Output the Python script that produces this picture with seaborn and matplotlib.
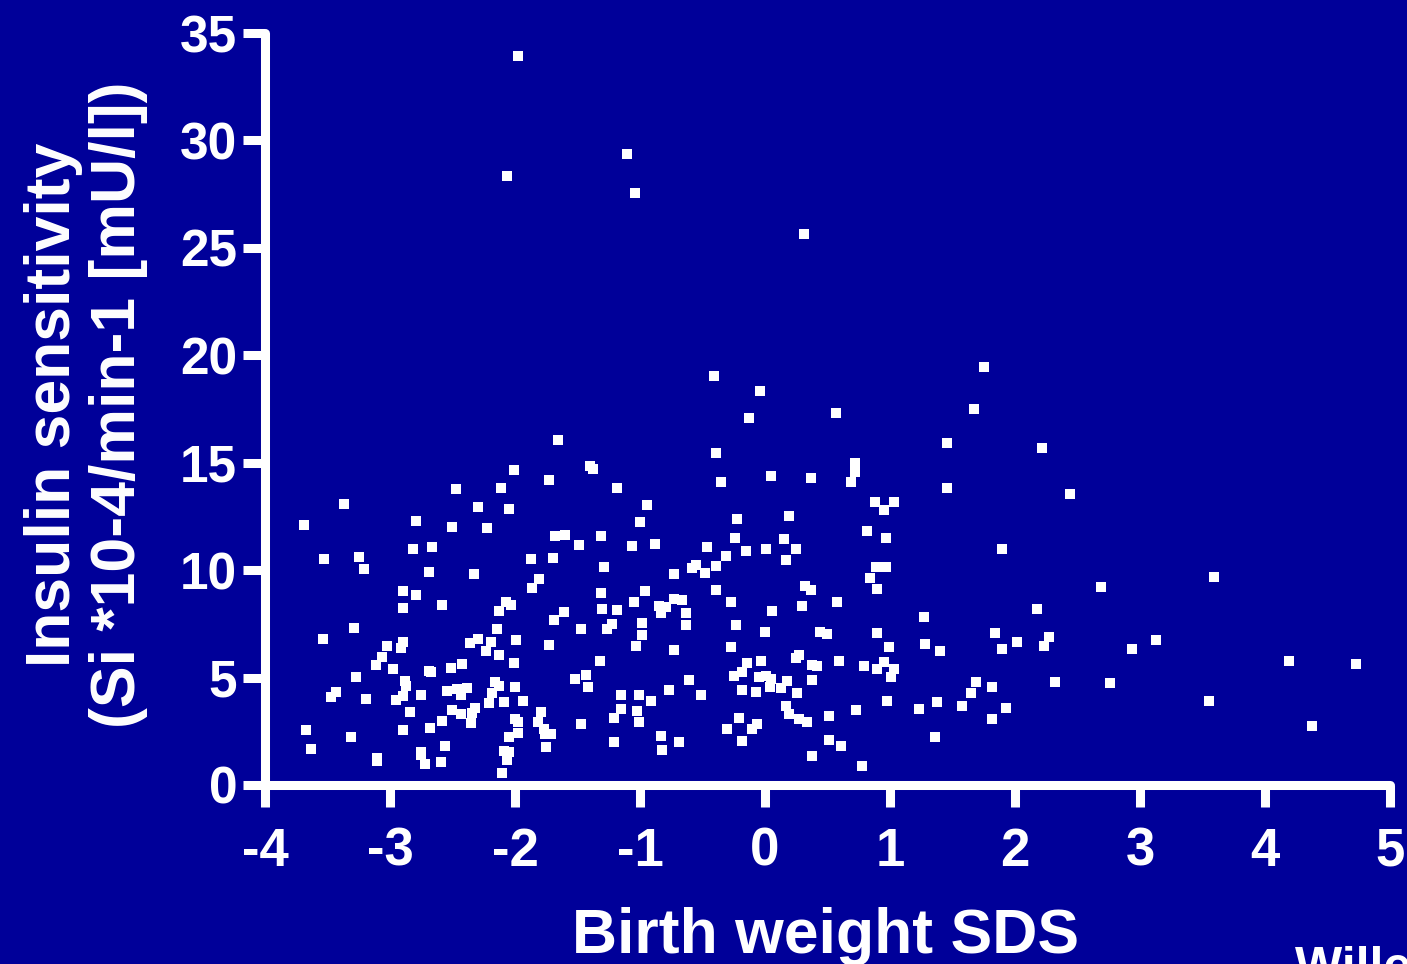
import matplotlib
matplotlib.use("Agg")
import matplotlib.pyplot as plt
import seaborn as sns
import pandas as pd

# Birth weight SDS (x) and insulin sensitivity (y)
birth_weight_sds = [
    -2.01, -2.47, -2.11, -3.37, -2.30, -2.05, -3.69, -2.79, -2.50, -2.22, -2.82, -2.66, -3.53, -3.25, -3.21,
    -2.69, -2.33, -2.90, -2.79, -2.90, -2.58, -2.07, -2.03, -2.13, -3.29, -3.54, -2.14, -3.02, -2.90, -2.91,
    -2.36, -2.30, -2.19, -1.99, -2.23, -2.13, -3.06, -3.11, -2.98, -2.69, -2.67, -2.51, -2.42, -2.01, -3.27,
    -2.88, -2.87, -3.43, -3.47, -3.19, -2.95, -2.90, -2.75, -2.54, -2.46, -2.43, -2.38, -2.16, -2.13, -2.18,
    -2.00, -2.21, -2.09, -1.94, -2.84, -2.50, -2.43, -2.32, -2.34, -2.58, -2.35, -2.00, -1.98, -3.67, -3.31,
    -2.90, -2.68, -2.05, -1.98, -3.63, -2.56, -2.75, -2.75, -3.10, -3.10, -2.72, -2.59, -2.09, -2.05, -2.06,
    -2.10,
    -0.13, -1.66, -0.39, -1.40, -1.38, -1.73, -0.35, -1.18, -0.94, -1.00, -0.22, -0.24, -1.68, -1.60, -1.31,
    -1.49, -1.06, -0.88, -0.46, -0.31, -0.15, 0.01, -1.87, -1.70, -1.29, -0.73, -0.58, -0.55, -0.48, -0.39,
    -1.81, -1.86, -1.31, -0.96, -1.05, -0.39, -0.73, -0.66, -0.85, -0.79, -0.83, -0.63, -0.27, -1.30, -1.18,
    -1.61, -1.69, -1.22, -1.26, -1.47, -0.98, -0.63, -0.98, -0.23, -1.73, -1.03, -0.73, -0.27, 0.00, -1.32,
    -0.14, -0.03, -1.52, -1.43, -1.42, -0.61, -0.25, -0.18, -0.05, 0.01, -1.15, -1.01, -0.91, -0.77, -0.51,
    -0.18, -0.07, 0.04, -1.79, -1.15, -1.21, -1.02, -1.01, -1.82, -1.77, -1.76, -1.71, -1.47, -1.75, -1.21,
    -0.83, -0.82, -0.69, -0.30, -0.21, -0.10, -0.06, -0.18,
    1.75, -0.04, 0.57, 1.67, 1.46, 0.05, 0.37, 0.72, 0.72, 0.69, 1.46, 0.88, 1.03, 0.95, 0.19,
    0.82, 0.97, 0.15, 0.25, 0.17, 1.90, 0.89, 0.97, 0.84, 0.90, 0.32, 0.37, 0.30, 0.58, 0.06,
    1.27, 0.44, 0.50, 0.90, 0.99, 1.28, 1.40, 1.84, 1.90, 0.25, 0.27, 0.38, 0.42, 0.59, 0.79,
    0.90, 0.95, 1.03, 1.01, 0.05, 0.13, 0.18, 0.38, 0.26, 0.17, 0.19, 0.27, 0.34, 0.51, 0.73,
    0.98, 1.23, 1.38, 1.58, 1.69, 1.65, 1.82, 1.82, 1.93, 1.36, 0.51, 0.61, 0.38, 0.78,
    2.22, 2.44, 3.59, 2.69, 2.18, 2.02, 2.27, 2.23, 2.94, 3.13, 4.19, 4.73, 2.32, 2.76, 3.55, 4.38,
    -1.98, -2.06, -1.10, -1.04, 0.31, -0.41,
]
insulin_sensitivity = [
    14.64, 13.77, 13.80, 13.10, 12.94, 12.85, 12.11, 12.28, 11.99, 11.94, 10.98, 11.08, 10.54, 10.62, 10.06,
    9.92, 9.81, 9.02, 8.85, 8.23, 8.36, 8.50, 8.36, 8.11, 7.33, 6.80, 7.26, 6.47, 6.64, 6.37,
    6.59, 6.78, 6.67, 6.73, 6.25, 6.05, 5.94, 5.57, 5.38, 5.30, 5.24, 5.46, 5.61, 5.67, 5.04,
    4.82, 4.60, 4.34, 4.11, 3.99, 3.94, 4.14, 4.19, 4.39, 4.47, 4.17, 4.50, 4.79, 4.60, 4.29,
    4.54, 3.83, 3.87, 3.91, 3.38, 3.50, 3.30, 3.57, 3.36, 2.99, 2.87, 3.06, 2.92, 2.56, 2.22,
    2.56, 2.65, 2.25, 2.40, 1.69, 1.83, 1.53, 1.40, 1.24, 1.12, 0.96, 1.07, 1.60, 1.53, 1.16,
    0.57,
    17.08, 16.06, 15.43, 14.87, 14.70, 14.20, 14.09, 13.80, 13.04, 12.25, 12.40, 11.50, 11.57, 11.64, 11.57,
    11.18, 11.13, 11.24, 11.07, 10.68, 10.87, 10.98, 10.51, 10.56, 10.13, 9.81, 10.08, 10.25, 9.87, 10.20,
    9.58, 9.16, 8.94, 9.02, 8.53, 9.08, 8.67, 8.59, 8.33, 8.29, 8.01, 8.01, 8.53, 8.19, 8.13,
    8.03, 7.69, 7.49, 7.27, 7.26, 7.55, 7.47, 6.99, 7.43, 6.50, 6.47, 6.28, 6.40, 7.10, 5.77,
    5.66, 5.77, 4.93, 5.10, 4.57, 4.87, 5.07, 5.24, 5.04, 5.08, 4.19, 4.17, 3.91, 4.40, 4.19,
    4.40, 4.34, 4.57, 3.38, 3.52, 3.10, 3.44, 2.94, 2.92, 2.62, 2.37, 2.36, 2.85, 1.75, 1.99,
    2.27, 1.64, 1.99, 2.62, 3.12, 2.59, 2.82, 2.05,
    19.47, 18.36, 17.32, 17.49, 15.92, 14.40, 14.29, 14.98, 14.57, 14.09, 13.80, 13.15, 13.18, 12.80, 12.53,
    11.81, 11.49, 11.44, 10.99, 10.48, 10.98, 10.15, 10.13, 9.63, 9.13, 9.27, 9.08, 8.34, 8.50, 8.09,
    7.80, 7.10, 7.02, 7.07, 6.43, 6.57, 6.23, 7.06, 6.34, 5.92, 6.03, 5.60, 5.53, 5.78, 5.53,
    5.41, 5.73, 5.41, 5.01, 4.92, 4.53, 4.84, 4.88, 4.27, 3.69, 3.30, 3.06, 2.94, 3.20, 3.49,
    3.91, 3.55, 3.85, 3.67, 4.78, 4.29, 4.57, 3.08, 3.60, 2.23, 2.08, 1.81, 1.33, 0.87,
    15.69, 13.53, 9.66, 9.20, 8.20, 6.67, 6.87, 6.48, 6.31, 6.74, 5.75, 5.64, 4.79, 4.74, 3.89, 2.76,
    33.95, 28.33, 29.35, 27.53, 25.63, 19.02,
]

x_ticks = [-4, -3, -2, -1, 0, 1, 2, 3, 4, 5]
y_ticks = [0, 5, 10, 15, 20, 25, 30, 35]
x_label = "Birth weight SDS"
y_label = "Insulin sensitivity\n(Si *10-4/min-1 [mU/l])"
credit = "Willemsen et al."

df = pd.DataFrame({"bw": birth_weight_sds, "si": insulin_sensitivity})

BG = "#000099"
sns.set_theme(style="ticks")
plt.rcParams["font.family"] = ["Liberation Sans", "DejaVu Sans"]
plt.rcParams["font.weight"] = "bold"

fig = plt.figure(figsize=(14.07, 9.64), dpi=100, facecolor=BG)
ax = fig.add_axes([265 / 1407, (964 - 785) / 964, 1125 / 1407, 752 / 964])
ax.set_facecolor(BG)

sns.scatterplot(data=df, x="bw", y="si", ax=ax, marker="s", s=50, color="white",
                linewidth=0, clip_on=False, legend=False)

ax.set_xlim(-4, 5)
ax.set_ylim(0, 35)
ax.set_xticks(x_ticks)
ax.set_yticks(y_ticks)
ax.set_xticklabels([str(t) for t in x_ticks])
ax.set_yticklabels([str(t) for t in y_ticks])
ax.set_xlabel("")
ax.set_ylabel("")

for side in ["top", "right"]:
    ax.spines[side].set_visible(False)
for side in ["left", "bottom"]:
    ax.spines[side].set_color("white")
    ax.spines[side].set_linewidth(6.5)
    ax.spines[side].set_capstyle("round")

ax.tick_params(axis="both", direction="out", length=16, width=6.5, color="white",
               labelcolor="white", labelsize=37)
ax.tick_params(axis="x", pad=14, labelsize=38)
ax.tick_params(axis="y", pad=4)
for lab in ax.get_xticklabels() + ax.get_yticklabels():
    lab.set_fontweight("bold")

fig.text(826 / 1407, 11 / 964, x_label, color="white", fontsize=45, fontweight="bold",
         ha="center", va="baseline")
fig.text(86 / 1407, (964 - 405) / 964, y_label, color="white", fontsize=45, fontweight="bold",
         ha="center", va="center", rotation=90, multialignment="center", linespacing=1.15)
fig.text(1295 / 1407, -18 / 964, credit, color="white", fontsize=36, fontweight="bold",
         ha="left", va="baseline")

fig.savefig("out.png", dpi=100, facecolor=BG)
